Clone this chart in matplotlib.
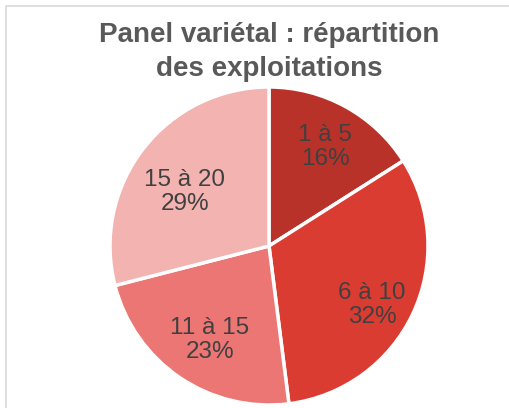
import numpy as np
import matplotlib.pyplot as plt
from matplotlib.patches import Rectangle

plt.rcParams['font.family'] = ['Liberation Sans', 'DejaVu Sans']

# data
categories = ["1 à 5", "6 à 10", "11 à 15", "15 à 20"]
shares = [16, 32, 23, 29]
colors = ["#B83229", "#DB3C32", "#EC7673", "#F2B3B1"]
# label placement: radial distance and angular nudge (deg)
label_dist = [0.715, 0.746, 0.698, 0.63]
label_nudge = [-0.7, -4.6, 2.1, 5.1]

fig = plt.figure(figsize=(5.10, 4.08), dpi=100)

# chart border (cropped at right and bottom)
fig.patches.append(Rectangle((6.5 / 510, -0.1), 1.2, 1.1 - 6.5 / 408,
                             transform=fig.transFigure, fill=False,
                             edgecolor="#D9D9D9", linewidth=1.2))

fig.text(0.527, 1 - 52 / 408, "Panel variétal : répartition\ndes exploitations",
         ha="center", va="center", fontsize=20, fontweight="bold",
         color="#595959", linespacing=1.42)

ax = fig.add_axes([110 / 510, 3 / 408, 318 / 510, 318 / 408])
wedges, _ = ax.pie(shares, colors=colors, startangle=90, counterclock=False,
                   wedgeprops=dict(edgecolor="white", linewidth=2.5))

total = sum(shares)
for w, cat, s, d, n in zip(wedges, categories, shares, label_dist, label_nudge):
    ang = np.deg2rad((w.theta1 + w.theta2) / 2 + n)
    x, y = d * np.cos(ang), d * np.sin(ang)
    ax.text(x, y, "%s\n%d%%" % (cat, round(100 * s / total)), ha="center",
            va="center", fontsize=17.5, color="#404040", linespacing=1.1)

ax.set_xlim(-1, 1)
ax.set_ylim(-1, 1)
ax.set_aspect("equal")
ax.axis("off")

fig.savefig("out.png", dpi=100)
